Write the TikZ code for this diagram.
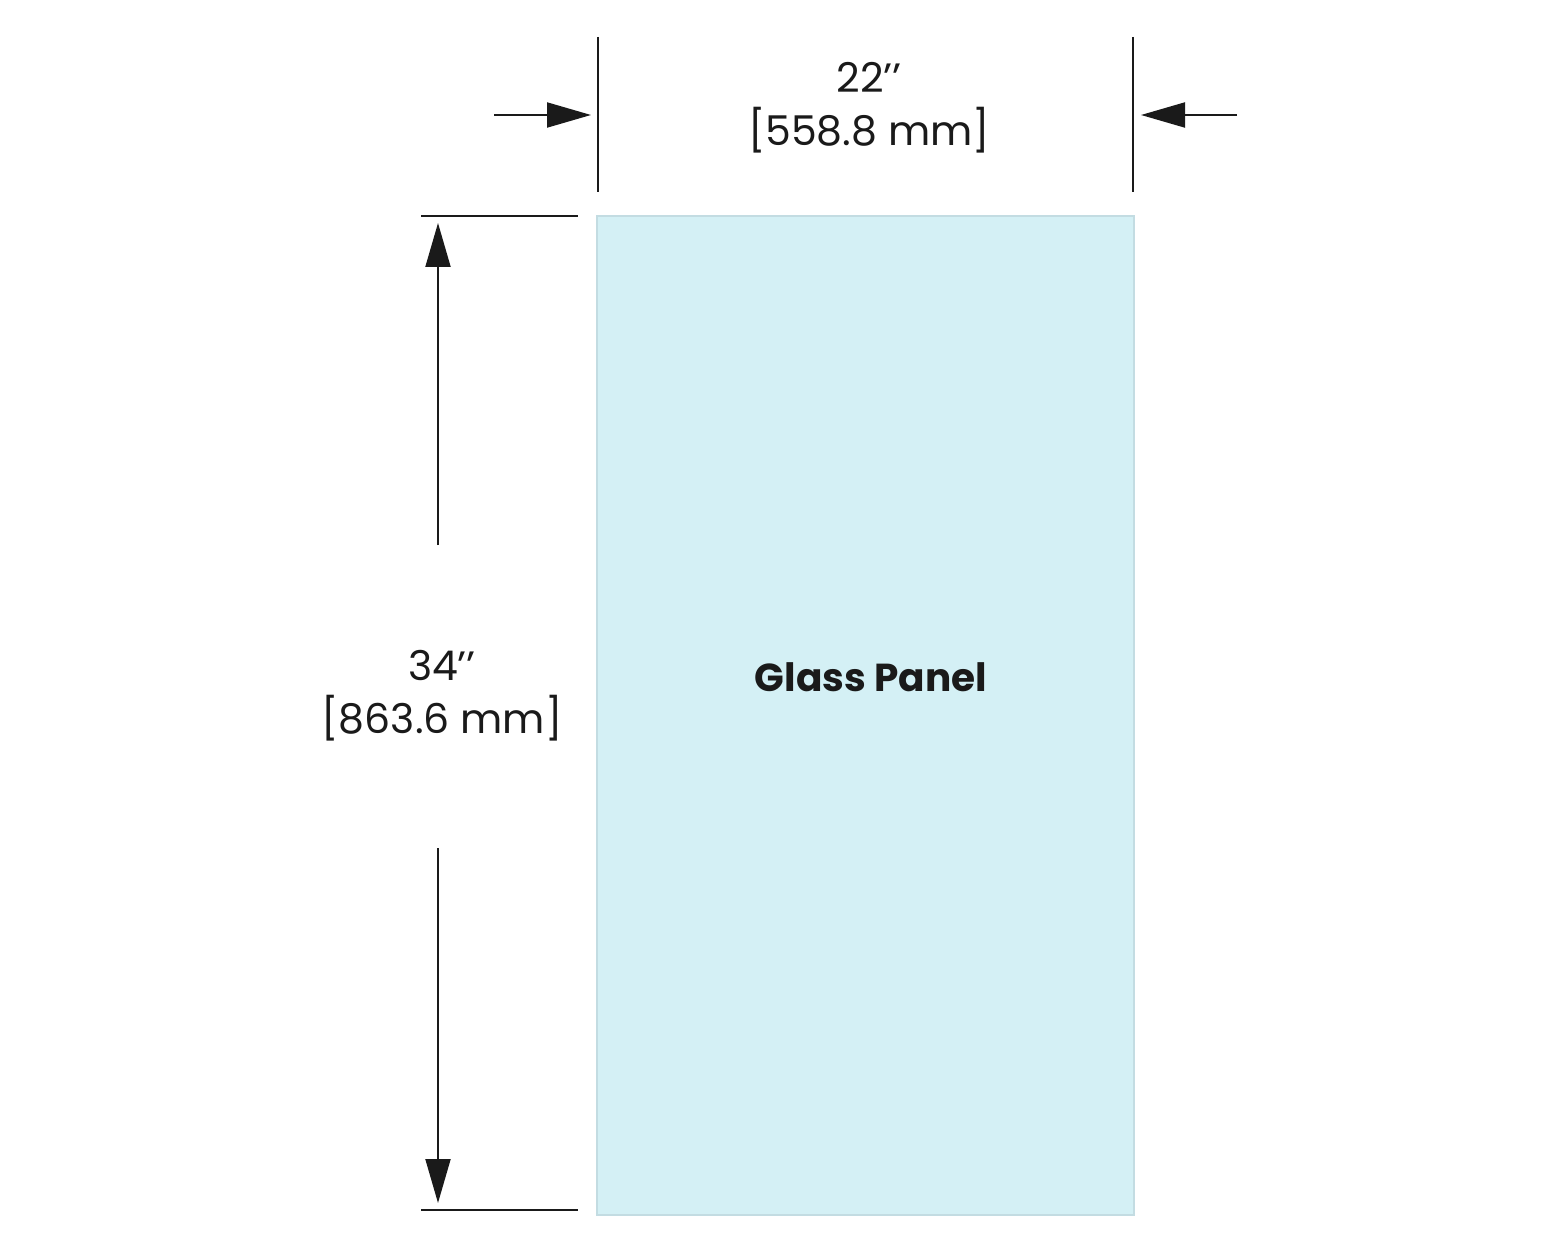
\documentclass[tikz,border=0pt]{standalone}
\usepackage{fontspec}
\setmainfont{Poppins}
\usetikzlibrary{arrows.meta}
\definecolor{glass}{HTML}{D4F0F5}
\definecolor{glassedge}{HTML}{C3DCE2}
\definecolor{ink}{HTML}{1A1A1A}
\begin{document}
\begin{tikzpicture}[x=0.5pt,y=-0.5pt,
  dimline/.style={draw=ink,line width=1pt},
  dimarrow/.style={draw=ink,line width=1pt,-{Triangle[length=22pt,width=12.5pt]}},
  dimtext/.style={text=ink,font=\fontsize{20.5}{26.5}\selectfont,align=center,inner sep=0pt},
  panel/.style={draw=glassedge,line width=1.2pt,fill=glass,minimum width=268.5pt,minimum height=499.5pt,inner sep=0pt}]
\useasboundingbox (0,0) rectangle (1563,1251);
% panel
\node[panel] (p) at (865.5,715.5) {};
\node[font=\fontsize{19.5}{23}\selectfont\bfseries,text=ink] (lbl) at (871,677) {Glass Panel};
% top extension lines
\coordinate (tl1) at (598,37); \coordinate (tl2) at (598,192);
\coordinate (tr1) at (1133,37); \coordinate (tr2) at (1133,192);
\draw[dimline] (tl1) -- (tl2);
\draw[dimline] (tr1) -- (tr2);
% horizontal arrows
\coordinate (la) at (494,115); \coordinate (lb) at (591,115);
\coordinate (ra) at (1237,115); \coordinate (rb) at (1141,115);
\draw[dimarrow] (la) -- (lb);
\draw[dimarrow] (ra) -- (rb);
\node[dimtext] (wtxt) at (869,108) {22’’\\{}[558.8 mm]};
% left extension lines
\coordinate (e1a) at (421,216); \coordinate (e1b) at (578,216);
\coordinate (e2a) at (421,1210); \coordinate (e2b) at (578,1210);
\draw[dimline] (e1a) -- (e1b);
\draw[dimline] (e2a) -- (e2b);
% vertical arrows
\coordinate (va) at (438,545); \coordinate (vb) at (438,223);
\coordinate (vc) at (438,848); \coordinate (vd) at (438,1203);
\draw[dimarrow] (va) -- (vb);
\draw[dimarrow] (vc) -- (vd);
\node[dimtext] (htxt) at (442,696) {34’’\\{}[863.6 mm]};
\end{tikzpicture}
\end{document}
